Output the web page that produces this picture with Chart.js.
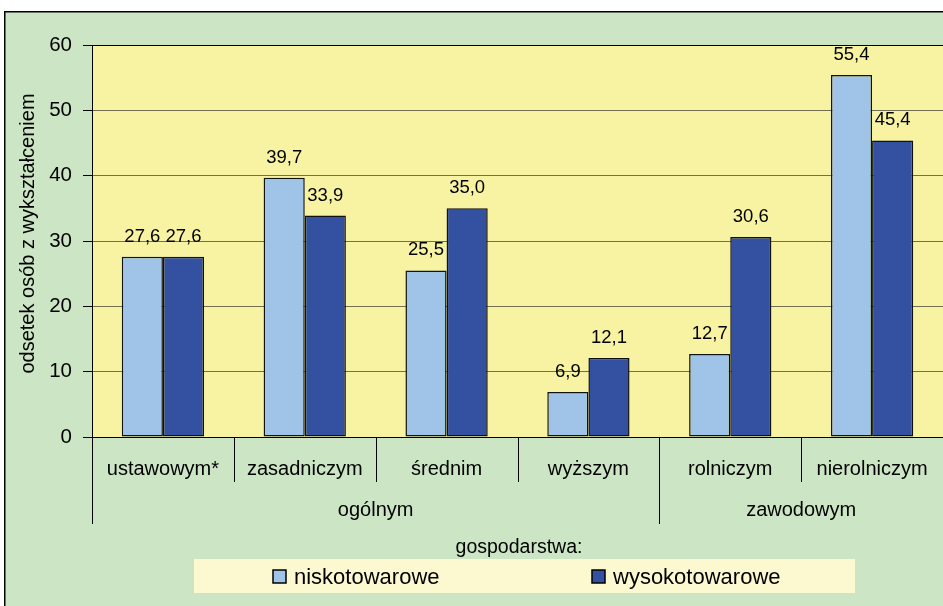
<!DOCTYPE html>
<html>
<head>
<meta charset="utf-8">
<script src="https://cdn.jsdelivr.net/npm/chart.js@4/dist/chart.umd.min.js"></script>
<style>
  html, body { margin: 0; padding: 0; background: #fff; overflow: hidden; }
  canvas { display: block; }
</style>
</head>
<body>
<canvas id="myChart" width="943" height="606"></canvas>
<script>
const categories = ["ustawowym*", "zasadniczym", "średnim", "wyższym", "rolniczym", "nierolniczym"];
const groupLabels = ["ogólnym", "zawodowym"];
const groupSizes = [4, 2];
const niskotowarowe = [27.6, 39.7, 25.5, 6.9, 12.7, 55.4];
const wysokotowarowe = [27.6, 33.9, 35.0, 12.1, 30.6, 45.4];
const yTicks = [0, 10, 20, 30, 40, 50, 60];
const legendTitle = "gospodarstwa:";
const yTitle = "odsetek osób z wykształceniem";

const FONT = "'Liberation Sans', Arial, sans-serif";

// background, plot area, axis dividers, value labels and legend
const decor = {
    id: "decor",
    beforeDraw(chart) {
        const ctx = chart.ctx;
        const a = chart.chartArea;
        ctx.save();
        ctx.fillStyle = "#ffffff";
        ctx.fillRect(0, 0, chart.width, chart.height);
        ctx.fillStyle = "#cce6c5";
        ctx.fillRect(4, 11, chart.width, chart.height);
        ctx.strokeStyle = "#000";
        ctx.lineWidth = 1.5;
        ctx.strokeRect(4.75, 11.75, chart.width + 10, chart.height + 10);
        ctx.fillStyle = "#f7f3a3";
        ctx.fillRect(a.left, a.top, a.right - a.left, a.bottom - a.top);
        ctx.restore();
    },
    afterDatasetsDraw(chart) {
        const ctx = chart.ctx;
        ctx.save();
        ctx.fillStyle = "#000";
        ctx.font = "18.5px " + FONT;
        ctx.textAlign = "center";
        ctx.textBaseline = "alphabetic";
        chart.data.datasets.forEach(function (ds, i) {
            chart.getDatasetMeta(i).data.forEach(function (bar, j) {
                ctx.fillText(ds.data[j].toFixed(1).replace(".", ","), bar.x, bar.y - 15);
            });
        });
        ctx.restore();
    },
    afterDraw(chart) {
        const ctx = chart.ctx;
        const a = chart.chartArea;
        const x = chart.scales.x;
        const step = (a.right - a.left) / categories.length;
        ctx.save();
        ctx.strokeStyle = "#000";
        ctx.lineWidth = 1;
        ctx.strokeRect(a.left + 0.5, a.top + 0.5, a.right - a.left + 10, a.bottom - a.top);

        // y axis title
        ctx.save();
        ctx.translate(28, 233.5);
        ctx.rotate(-Math.PI / 2);
        ctx.fillStyle = "#000";
        ctx.font = "20px " + FONT;
        ctx.textAlign = "center";
        ctx.textBaseline = "middle";
        ctx.fillText(yTitle, 0, 0);
        ctx.restore();

        // category and group dividers below the axis
        const groupEdges = [0];
        groupSizes.forEach(function (s) { groupEdges.push(groupEdges[groupEdges.length - 1] + s); });
        for (let i = 0; i < categories.length; i++) {
            const px = Math.round(x.getPixelForValue(i) - step / 2) + 0.5;
            const isGroup = groupEdges.indexOf(i) >= 0;
            ctx.beginPath();
            ctx.moveTo(px, a.bottom);
            ctx.lineTo(px, isGroup ? 524 : 482);
            ctx.stroke();
        }

        ctx.fillStyle = "#000";
        ctx.font = "20px " + FONT;
        ctx.textAlign = "center";
        ctx.textBaseline = "middle";
        groupLabels.forEach(function (g, k) {
            const l = x.getPixelForValue(groupEdges[k]) - step / 2;
            const r = x.getPixelForValue(groupEdges[k + 1] - 1) + step / 2;
            ctx.fillText(g, (l + r) / 2, 510);
        });

        // legend
        ctx.font = "19.5px " + FONT;
        ctx.fillText(legendTitle, 519, 548);
        ctx.fillStyle = "#fcf9d0";
        ctx.fillRect(194, 559, 661, 34);
        ctx.font = "22px " + FONT;
        ctx.textAlign = "left";
        ctx.textBaseline = "alphabetic";
        chart.data.datasets.forEach(function (ds, i) {
            const lx = 273 + i * 319;
            ctx.fillStyle = ds.backgroundColor;
            ctx.fillRect(lx, 570, 13, 13);
            ctx.strokeStyle = "#000";
            ctx.lineWidth = 1.5;
            ctx.strokeRect(lx, 570, 13, 13);
            ctx.fillStyle = "#000";
            ctx.fillText(ds.label, lx + 21, 584);
        });
        ctx.restore();
    },
};

new Chart(document.getElementById("myChart"), {
    type: "bar",
    data: {
        labels: categories,
        datasets: [
            {
                label: "niskotowarowe",
                data: niskotowarowe,
                backgroundColor: "#a0c4e8",
                borderColor: "#111",
                borderWidth: 1.5,
                borderSkipped: false,
            },
            {
                label: "wysokotowarowe",
                data: wysokotowarowe,
                backgroundColor: "#3450a0",
                borderColor: "#111",
                borderWidth: 1.5,
                borderSkipped: false,
            },
        ],
    },
    options: {
        responsive: false,
        animation: false,
        layout: { padding: { top: 45, left: 0, right: 0, bottom: 0 } },
        datasets: { bar: { categoryPercentage: 0.58, barPercentage: 1 } },
        plugins: {
            legend: { display: false },
            tooltip: { enabled: false },
        },
        scales: {
            x: {
                afterFit: function (scale) {
                    scale.height = 169;
                    scale.paddingLeft = 0;
                    scale.paddingRight = 0;
                },
                grid: { display: false, drawTicks: false },
                border: { display: true, color: "#000" },
                ticks: {
                    color: "#000",
                    font: { family: FONT, size: 20 },
                    padding: 20,
                    maxRotation: 0,
                    autoSkip: false,
                },
            },
            y: {
                min: 0,
                max: 60,
                afterFit: function (scale) {
                    scale.width = 92;
                    scale.paddingTop = 0;
                    scale.paddingBottom = 0;
                },
                afterBuildTicks: function (scale) {
                    scale.ticks = yTicks.map(function (v) { return { value: v }; });
                },
                grid: { color: "#707050", tickColor: "#000", tickLength: 9, lineWidth: 1 },
                border: { display: true, color: "#000" },
                ticks: {
                    color: "#000",
                    font: { family: FONT, size: 20.5 },
                    padding: 11,
                },
            },
        },
    },
    plugins: [decor],
});
</script>
</body>
</html>
